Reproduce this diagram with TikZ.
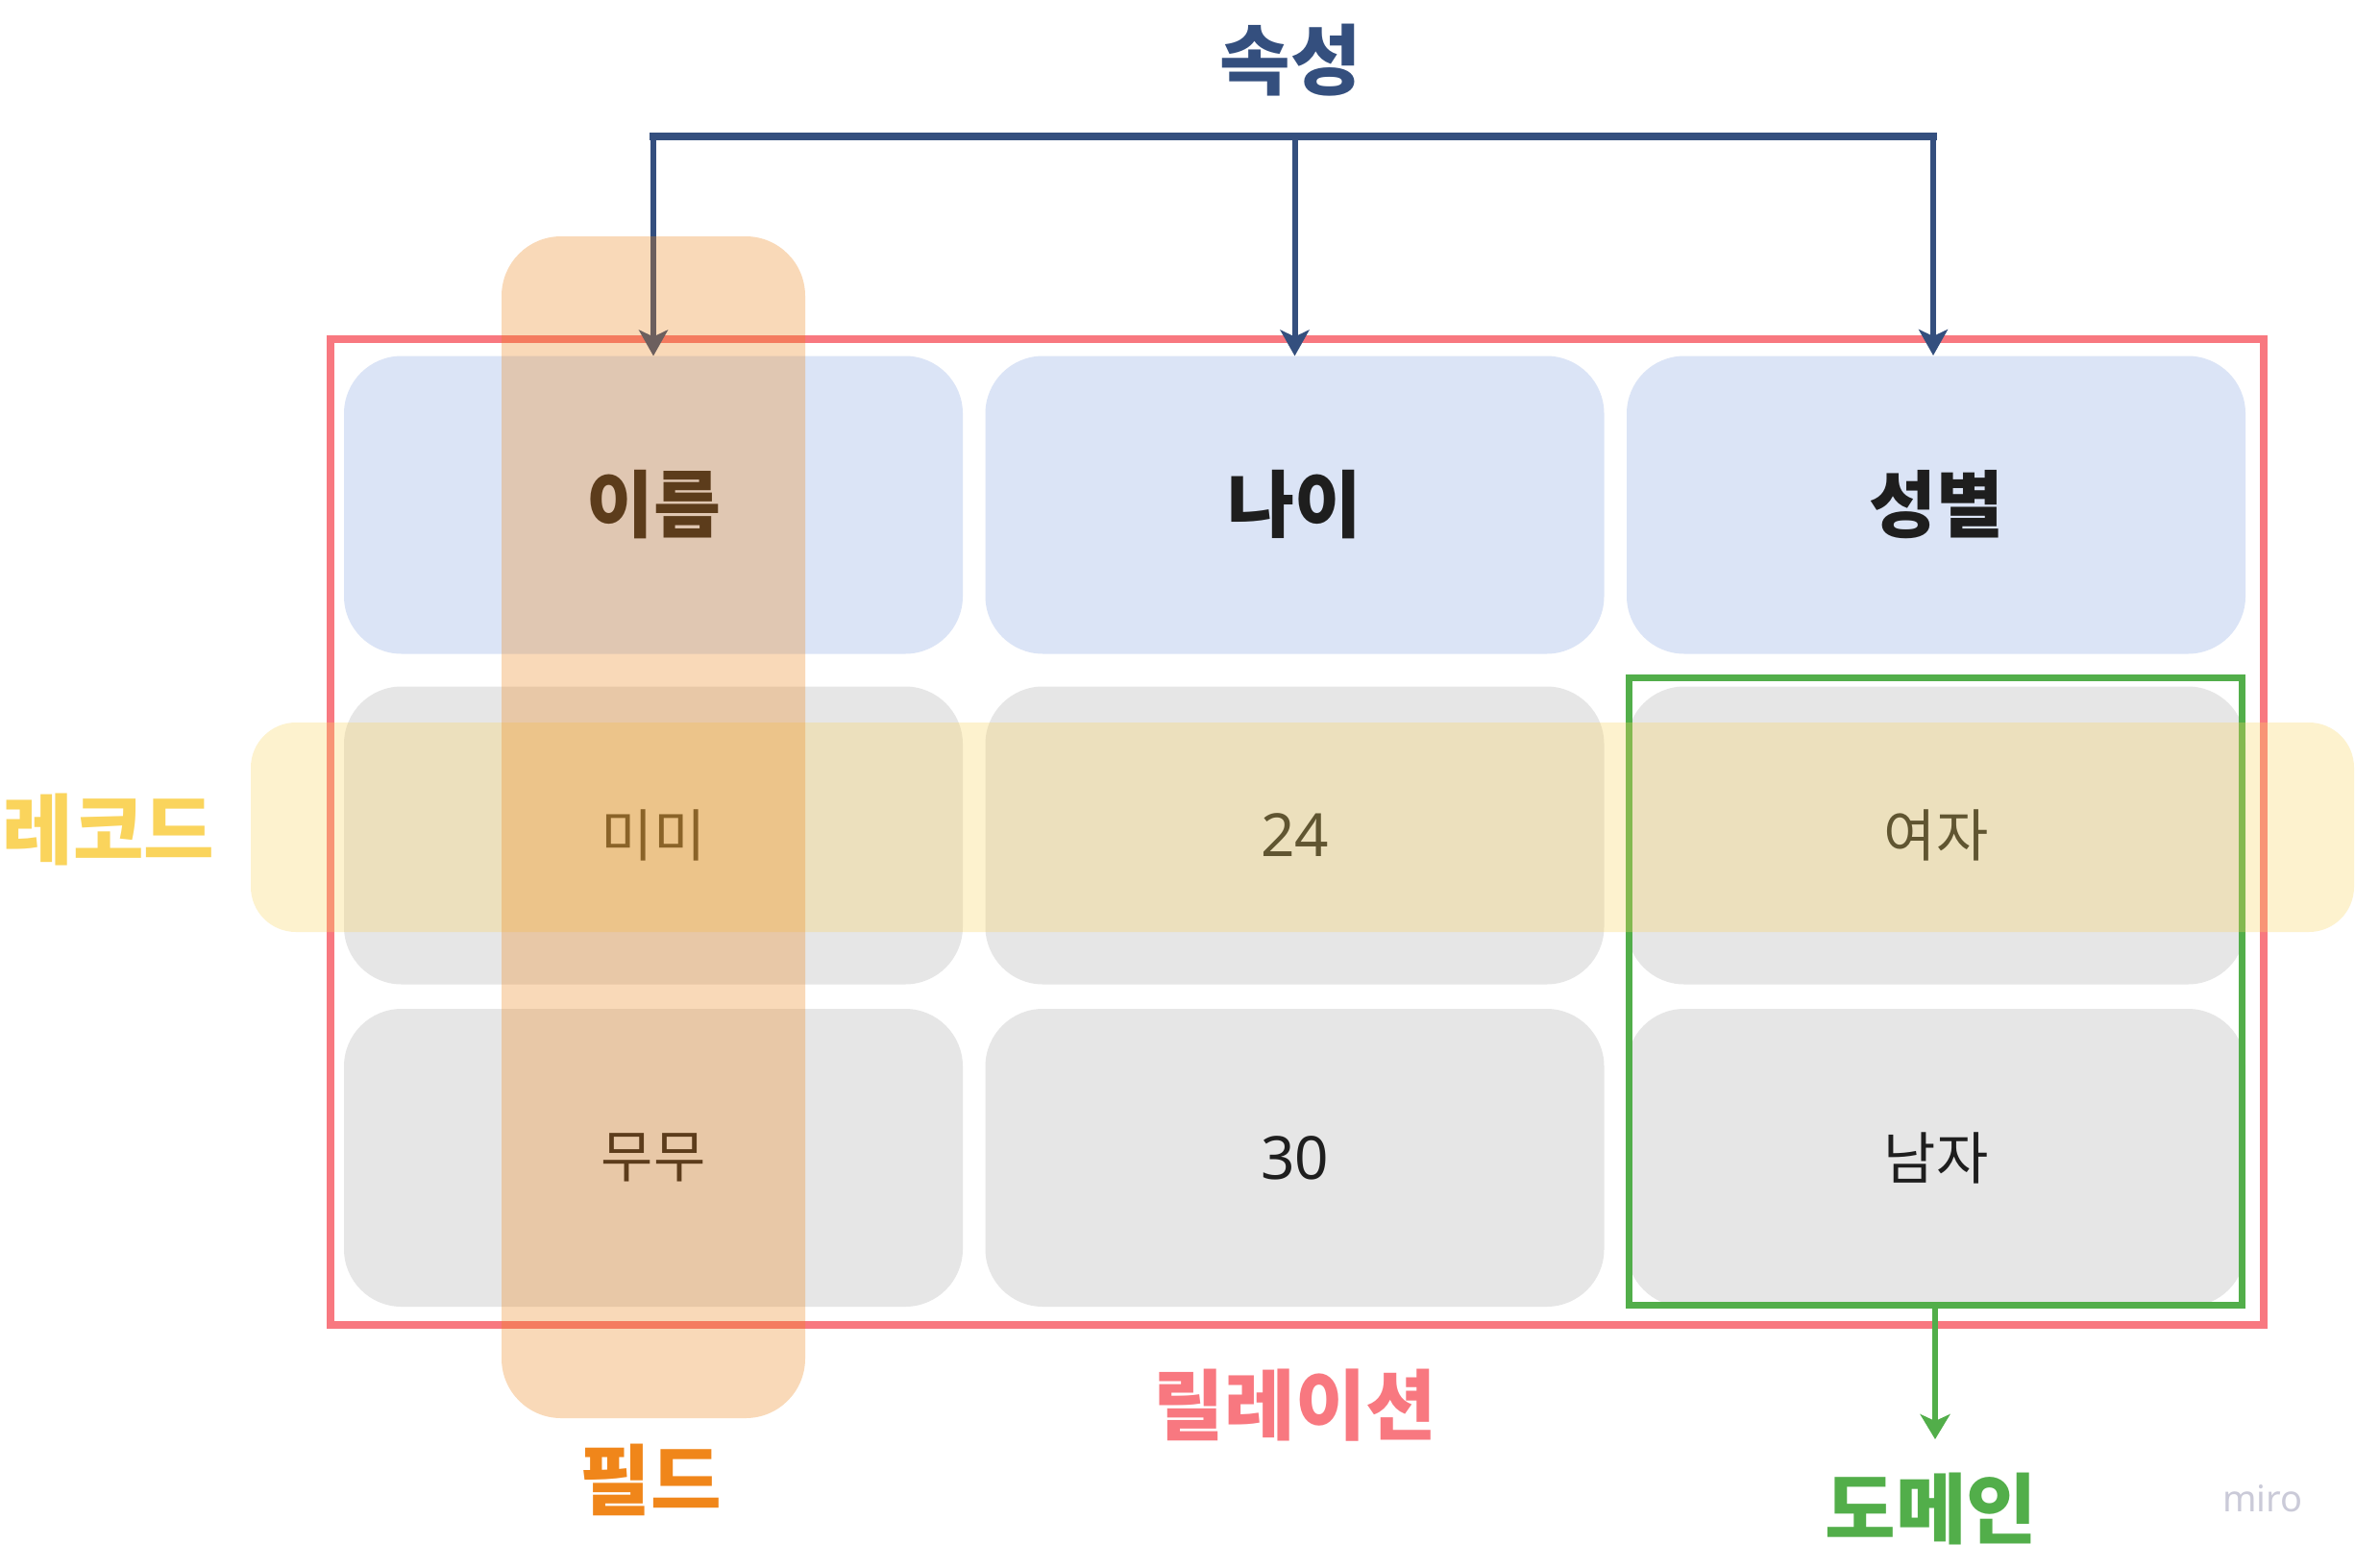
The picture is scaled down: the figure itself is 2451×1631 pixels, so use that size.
\documentclass[tikz,border=0pt]{standalone}
\usepackage{fontspec}
\setmainfont{Noto Sans}
\newfontfamily\kr{Noto Sans CJK KR}
\usetikzlibrary{arrows.meta}
\definecolor{hdrblue}{HTML}{DBE4F6}
\definecolor{cellgray}{HTML}{E6E6E6}
\definecolor{relred}{HTML}{F87880}
\definecolor{domgreen}{HTML}{52AE4A}
\definecolor{attrblue}{HTML}{344F7E}
\definecolor{recyellow}{HTML}{FAD560}
\definecolor{fieldorange}{HTML}{EE8416}
\definecolor{fieldtext}{HTML}{F0861A}
\definecolor{recordtext}{HTML}{FAD45C}
\definecolor{mirogray}{HTML}{CACAD8}
\definecolor{txt}{HTML}{1E1E1E}
\tikzset{
  cellbox/.style={rounded corners=60pt, minimum width=644pt, minimum height=310pt, inner sep=0pt, outer sep=0pt, text=txt},
  hdrcell/.style={cellbox, fill=hdrblue, font=\kr\bfseries\fontsize{76}{92}\selectfont},
  datacell/.style={cellbox, fill=cellgray, font=\kr\fontsize{59}{72}\selectfont},
  numcell/.style={cellbox, fill=cellgray, font=\fontsize{62}{76}\selectfont},
  attrarrow/.style={draw=attrblue, line width=6pt, -{Stealth[length=27pt, width=30pt, inset=7pt]}},
  biglabel/.style={font=\kr\bfseries\fontsize{80}{96}\selectfont, inner sep=0pt},
}
\begin{document}
\begin{tikzpicture}[x=1pt, y=-1pt]
\useasboundingbox (0,0) rectangle (2451,1631);
\fill[white] (0,0) rectangle (2451,1631);
% cells
\node[hdrcell] (c11) at (680,525.5) {이름};
\node[hdrcell] (c12) at (1347.5,525.5) {나이};
\node[hdrcell] (c13) at (2015,525.5) {성별};
\node[datacell] (c21) at (680,869.5) {미미};
\node[numcell] (c22) at (1347.5,869.5) {24};
\node[datacell] (c23) at (2015,869.5) {여자};
\node[datacell] (c31) at (680,1205) {무무};
\node[numcell] (c32) at (1347.5,1205) {30};
\node[datacell] (c33) at (2015,1205) {남자};
% relation frame
\node[draw=relred, line width=8pt, minimum width=2012pt, minimum height=1026pt, inner sep=0pt, outer sep=0pt] (rel) at (1350,866) {};
% domain frame
\node[draw=domgreen, line width=7pt, minimum width=638pt, minimum height=653pt, inner sep=0pt, outer sep=0pt] (dom) at (2014,1031.5) {};
\coordinate (domend) at (2014,1498);
\draw[draw=domgreen, line width=5.5pt, -{Stealth[length=26pt, width=31pt, inset=7pt]}] (dom.south) -- (domend);
% attribute arrows
\coordinate (a1) at (680,142);
\coordinate (a2) at (1347.5,142);
\coordinate (a3) at (2012,142);
\coordinate (t3) at (2012,370);
\draw[attrblue, line width=8pt, line cap=rect] (a1) -- (a3);
\draw[attrarrow] (a1) -- (c11.north);
\draw[attrarrow] (a2) -- (c12.north);
\draw[attrarrow] (a3) -- (t3);
% record band
\fill[recyellow, fill opacity=0.3, rounded corners=47pt] (261,752) rectangle (2450,970);
% field column
\fill[fieldorange, fill opacity=0.3, rounded corners=62pt] (522,246) rectangle (838,1476);
% labels
\node[biglabel, text=attrblue] (lattr) at (1343,63) {속성};
\node[biglabel, text=recordtext] (lrec) at (113,863) {레코드};
\node[biglabel, text=fieldtext] (lfield) at (677,1540) {필드};
\node[biglabel, text=relred] (lrel) at (1348,1463) {릴레이션};
\node[biglabel, text=domgreen] (ldom) at (2010,1570) {도메인};
\node[font=\bfseries\fontsize{38}{46}\selectfont, text=mirogray, inner sep=0pt] (miro) at (2355,1560) {miro};
\end{tikzpicture}
\end{document}
